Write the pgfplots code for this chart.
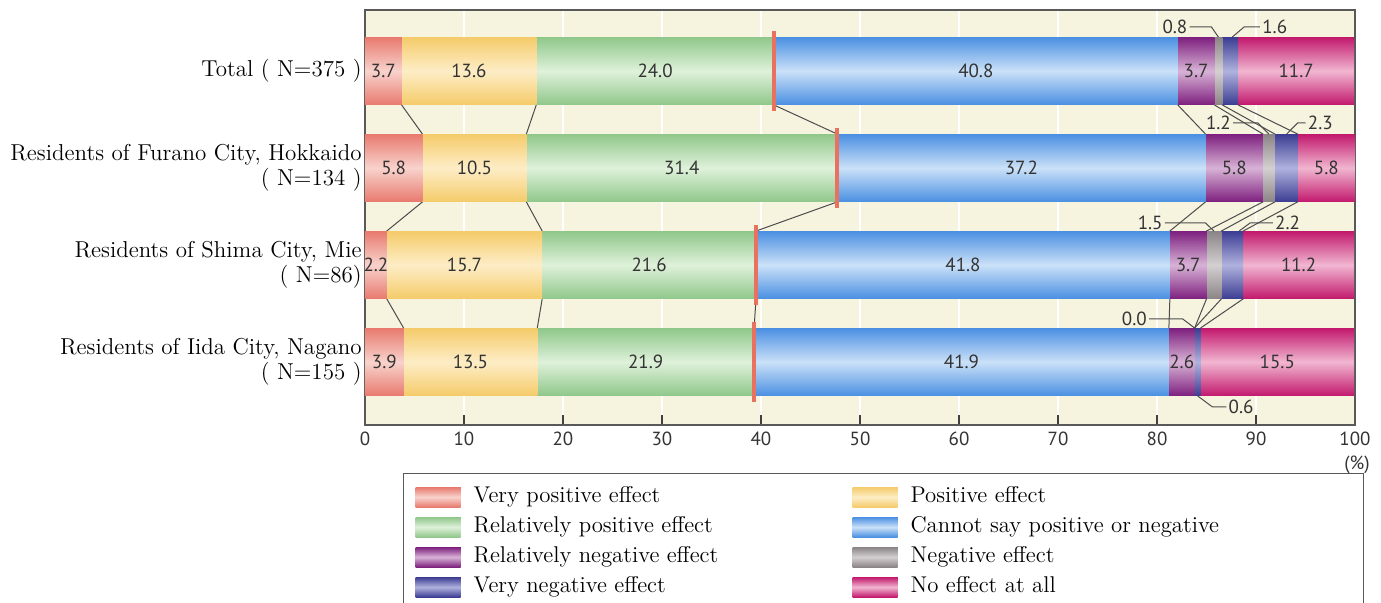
\documentclass[border=0pt]{standalone}
\usepackage{pgfplots}
\pgfplotsset{compat=1.18}
\usepackage{pgfplotstable}
\usepackage{fontspec}
\newfontfamily\numfont{PT Sans}

% segment colours: edge tone and light centre tone
\definecolor{vpE}{HTML}{E8796E}\definecolor{vpM}{HTML}{F8D3CC}
\definecolor{poE}{HTML}{F5CB6A}\definecolor{poM}{HTML}{FDEDC6}
\definecolor{rpE}{HTML}{8FC78A}\definecolor{rpM}{HTML}{DFF1DA}
\definecolor{csE}{HTML}{4A8FE2}\definecolor{csM}{HTML}{CBE1F8}
\definecolor{rnE}{HTML}{7D1F7E}\definecolor{rnM}{HTML}{D8B3D6}
\definecolor{ngE}{HTML}{8A8486}\definecolor{ngM}{HTML}{D4CFD0}
\definecolor{vnE}{HTML}{3B3C92}\definecolor{vnM}{HTML}{B0B2DE}
\definecolor{noE}{HTML}{C2186C}\definecolor{noM}{HTML}{F1B6D1}
\definecolor{bgcream}{HTML}{F6F3DF}
\definecolor{markred}{HTML}{E8725F}
\definecolor{labgray}{HTML}{333333}

% shares (%) per group; k is the row (0 = top)
\pgfplotstableread{
k vp   pos  rpos cant rneg neg vneg none
0 3.7  13.6 24.0 40.8 3.7  0.8 1.6  11.7
}\rowTotal
\pgfplotstableread{
k vp   pos  rpos cant rneg neg vneg none
1 5.8  10.5 31.4 37.2 5.8  1.2 2.3  5.8
}\rowFurano
\pgfplotstableread{
k vp   pos  rpos cant rneg neg vneg none
2 2.2  15.7 21.6 41.8 3.7  1.5 2.2  11.2
}\rowShima
\pgfplotstableread{
k vp   pos  rpos cant rneg neg vneg none
3 3.9  13.5 21.9 41.9 2.6  0.0 0.6  15.5
}\rowIida

% in-bar value labels at segment centres
\pgfplotstableread{
x     k lab
1.85  0 3.7
10.5  0 13.6
29.3  0 24.0
61.7  0 40.8
83.95 0 3.7
94.05 0 11.7
2.9   1 5.8
11.05 1 10.5
32.0  1 31.4
66.3  1 37.2
87.8  1 5.8
97.1  1 5.8
1.1   2 2.2
10.05 2 15.7
28.7  2 21.6
60.4  2 41.8
83.15 2 3.7
94.3  2 11.2
1.95  3 3.9
10.65 3 13.5
28.35 3 21.9
60.25 3 41.9
82.5  3 2.6
92.15 3 15.5
}\labels

\pgfplotsset{
  chartgeom/.style={scale only axis, width=495pt, height=207.5pt,
    xmin=0, xmax=100, ymin=-0.629, ymax=3.65, y dir=reverse},
  rowaxis/.style={chartgeom, hide axis, xbar stacked, bar width=0.70},
  seg/.style 2 args={draw=none, fill=#1, top color=#1, bottom color=#1, middle color=#2,
    legend image code/.code={\fill[##1] (0pt,-5pt) rectangle (22.5pt,5pt);}},
  link/.style={draw=black!70, line width=0.5pt, mark=none, forget plot},
}
\newcommand\nf{\numfont\fontsize{9.5}{11}\selectfont}
% the eight stacked segments of one group
\newcommand\groupbars[1]{%
  \addplot[seg={vpE}{vpM}] table[x=vp,   y=k] {#1};
  \addplot[seg={poE}{poM}] table[x=pos,  y=k] {#1};
  \addplot[seg={rpE}{rpM}] table[x=rpos, y=k] {#1};
  \addplot[seg={csE}{csM}] table[x=cant, y=k] {#1};
  \addplot[seg={rnE}{rnM}] table[x=rneg, y=k] {#1};
  \addplot[seg={ngE}{ngM}] table[x=neg,  y=k] {#1};
  \addplot[seg={vnE}{vnM}] table[x=vneg, y=k] {#1};
  \addplot[seg={noE}{noM}] table[x=none, y=k] {#1};
}

\begin{document}
\begin{tikzpicture}
% frame, grid, ticks, group labels and boundary connectors
\begin{axis}[chartgeom,
  axis background/.style={fill=bgcream},
  xtick={0,10,...,100}, xmajorgrids, major grid style={white, line width=1pt},
  ytick={0,1,2,3},
  yticklabels={{Total ( N=375 )},
               {Residents of Furano City, Hokkaido\\( N=134 )},
               {Residents of Shima City, Mie\\( N=86)},
               {Residents of Iida City, Nagano\\( N=155 )}},
  yticklabel style={align=right, font=\fontsize{11.5}{12.5}\selectfont, inner xsep=1.5pt},
  ytick style={draw=none},
  tick align=inside, xtick pos=left, major tick length=5pt,
  xtick style={black!75, line width=0.6pt},
  axis line style={black!65, line width=0.6pt},
  xticklabel style={font=\nf, text=black!80},
  /pgf/number format/assume math mode=true,
  clip=false]
\addplot[link] coordinates {(3.7,0.35) (5.8,0.65) (5.8,1.35) (2.2,1.65) (2.2,2.35) (3.9,2.65)};
\addplot[link] coordinates {(17.3,0.35) (16.3,0.65) (16.3,1.35) (17.9,1.65) (17.9,2.35) (17.4,2.65)};
\addplot[link] coordinates {(41.3,0.35) (47.7,0.65) (47.7,1.35) (39.5,1.65) (39.5,2.35) (39.3,2.65)};
\addplot[link] coordinates {(82.1,0.35) (84.9,0.65) (84.9,1.35) (81.3,1.65) (81.3,2.35) (81.2,2.65)};
\addplot[link] coordinates {(85.8,0.35) (90.7,0.65) (90.7,1.35) (85.0,1.65) (85.0,2.35) (83.8,2.65)};
\addplot[link] coordinates {(86.6,0.35) (91.9,0.65) (91.9,1.35) (86.5,1.65) (86.5,2.35) (83.8,2.65)};
\addplot[link] coordinates {(88.2,0.35) (94.2,0.65) (94.2,1.35) (88.7,1.65) (88.7,2.35) (84.4,2.65)};
\node[font=\nf, text=black!80] at (axis description cs:1.002,-0.0964) {(\%)};
\end{axis}

% stacked bars, one axis per group so each segment is shaded on its own
\begin{axis}[rowaxis,
  legend columns=2, legend cell align=left,
  legend entries={{\makebox[187.5pt][l]{Very positive effect}},
                  {\makebox[218.5pt][l]{Positive effect}},
                  {\makebox[187.5pt][l]{Relatively positive effect}},
                  {\makebox[218.5pt][l]{Cannot say positive or negative}},
                  {\makebox[187.5pt][l]{Relatively negative effect}},
                  {\makebox[218.5pt][l]{Negative effect}},
                  {\makebox[187.5pt][l]{Very negative effect}},
                  {\makebox[218.5pt][l]{No effect at all}}},
  legend style={at={(0.0384,-0.1157)}, anchor=north west,
    draw=black!65, line width=0.6pt, fill=white,
    inner xsep=6pt, inner ysep=6pt, row sep=3.5pt,
    font=\fontsize{11.4}{13}\selectfont,
    nodes={inner xsep=2pt, inner ysep=1pt, text height=7.5pt, text depth=2pt},
    /tikz/every odd column/.append style={column sep=4.5pt}}]
\groupbars{\rowTotal}
\end{axis}
\begin{axis}[rowaxis]
\groupbars{\rowFurano}
\end{axis}
\begin{axis}[rowaxis]
\groupbars{\rowShima}
\end{axis}
\begin{axis}[rowaxis]
\groupbars{\rowIida}
\end{axis}

% positive / neutral markers, values and call-outs
\begin{axis}[chartgeom, hide axis, clip=false]
\addplot[draw=markred, line width=2.2pt, mark=none] coordinates {(41.3,-0.41) (41.3,0.41)};
\addplot[draw=markred, line width=2.2pt, mark=none] coordinates {(47.7,0.59) (47.7,1.41)};
\addplot[draw=markred, line width=2.2pt, mark=none] coordinates {(39.5,1.59) (39.5,2.41)};
\addplot[draw=markred, line width=2.2pt, mark=none] coordinates {(39.3,2.59) (39.3,3.41)};
\addplot[draw=none, mark=none, nodes near coords, point meta=explicit symbolic,
  every node near coord/.style={anchor=center, font=\nf, text=labgray}]
  table[x=x, y=k, meta=lab] {\labels};
% call-outs for the narrow segments
\addplot[link] coordinates {(83.3,-0.454) (85.5,-0.454) (86.2,-0.35)};
\addplot[link] coordinates {(90.4,-0.454) (88.8,-0.454) (87.6,-0.35)};
\addplot[link] coordinates {(87.7,0.536) (90.2,0.536) (91.3,0.65)};
\addplot[link] coordinates {(95.0,0.536) (94.2,0.536) (93.1,0.65)};
\addplot[link] coordinates {(80.8,1.567) (84.9,1.567) (85.75,1.65)};
\addplot[link] coordinates {(91.7,1.567) (89.4,1.567) (88.3,1.65)};
\addplot[link] coordinates {(79.2,2.557) (82.6,2.557) (83.8,2.65)};
\addplot[link] coordinates {(84.1,3.35) (85.6,3.464) (87.0,3.464)};
\begin{scope}[every node/.style={font=\nf, text=labgray, inner sep=0.5pt}]
\node[anchor=east] at (axis cs:83.2,-0.454) {0.8};
\node[anchor=west] at (axis cs:90.5,-0.454) {1.6};
\node[anchor=east] at (axis cs:87.6,0.536) {1.2};
\node[anchor=west] at (axis cs:95.1,0.536) {2.3};
\node[anchor=east] at (axis cs:80.7,1.567) {1.5};
\node[anchor=west] at (axis cs:91.8,1.567) {2.2};
\node[anchor=east] at (axis cs:79.1,2.557) {0.0};
\node[anchor=west] at (axis cs:87.1,3.464) {0.6};
\end{scope}
\end{axis}
\pgfresetboundingbox
\path[use as bounding box] (-182.5pt,-89pt) rectangle (508pt,212.5pt);
\end{tikzpicture}
\end{document}
